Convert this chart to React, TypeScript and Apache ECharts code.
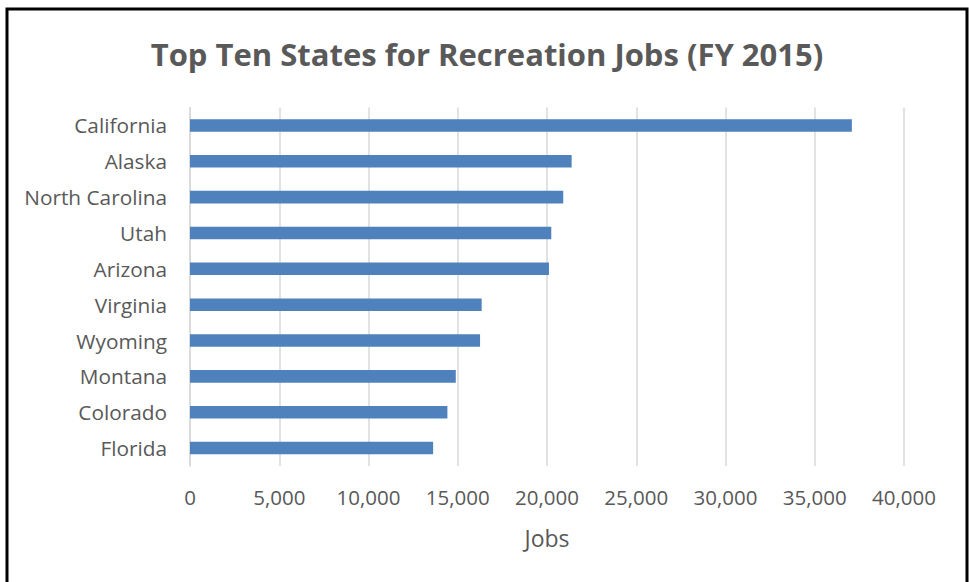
import React, { useEffect, useRef } from "react";
import * as echarts from "echarts";

const states = [
  "California",
  "Alaska",
  "North Carolina",
  "Utah",
  "Arizona",
  "Virginia",
  "Wyoming",
  "Montana",
  "Colorado",
  "Florida",
];
const jobs = [37080, 21380, 20910, 20240, 20110, 16340, 16250, 14890, 14420, 13620];
const titleText = "Top Ten States for Recreation Jobs (FY 2015)";
const axisName = "Jobs";

export default function App() {
  const ref = useRef<HTMLDivElement>(null);
  useEffect(() => {
    if (!ref.current) return;
    const chart = echarts.init(ref.current, null, { renderer: "svg" });
    const font = "'Open Sans', sans-serif";
    chart.setOption({
      animation: false,
      backgroundColor: "#ffffff",
      title: {
        text: titleText,
        left: 482,
        textAlign: "center",
        top: 33,
        textStyle: {
          fontFamily: font,
          fontWeight: "bold",
          fontSize: 31,
          color: "#595959",
        },
      },
      graphic: [
        {
          type: "rect",
          shape: { x: 7, y: 9, width: 960, height: 600 },
          style: { fill: "none", stroke: "#000000", lineWidth: 3 },
          silent: true,
        },
      ],
      grid: { left: 190, right: 65, top: 107.5, bottom: 116, containLabel: false },
      xAxis: {
        type: "value",
        min: 0,
        max: 40000,
        interval: 5000,
        name: axisName,
        nameLocation: "middle",
        nameGap: 60,
        nameTextStyle: { fontFamily: font, fontSize: 23, color: "#595959" },
        axisLine: { show: false },
        axisTick: { show: false },
        splitLine: { show: true, lineStyle: { color: "#d9d9d9", width: 1.5 } },
        axisLabel: {
          fontFamily: font,
          fontSize: 20.5,
          color: "#595959",
          margin: 20,
          formatter: (v: number) => v.toLocaleString("en-US"),
        },
      },
      yAxis: {
        type: "category",
        data: states,
        inverse: true,
        axisLine: { show: true, lineStyle: { color: "#d9d9d9", width: 1.5 } },
        axisTick: { show: false },
        axisLabel: {
          fontFamily: font,
          fontSize: 20.8,
          color: "#595959",
          margin: 23,
        },
      },
      series: [
        {
          type: "bar",
          data: jobs,
          barWidth: "35%",
          itemStyle: { color: "#4f81bd" },
        },
      ],
    });
    return () => chart.dispose();
  }, []);
  return (
    <div
      ref={ref}
      style={{ position: "fixed", left: 0, top: 0, width: 969, height: 582 }}
    />
  );
}
